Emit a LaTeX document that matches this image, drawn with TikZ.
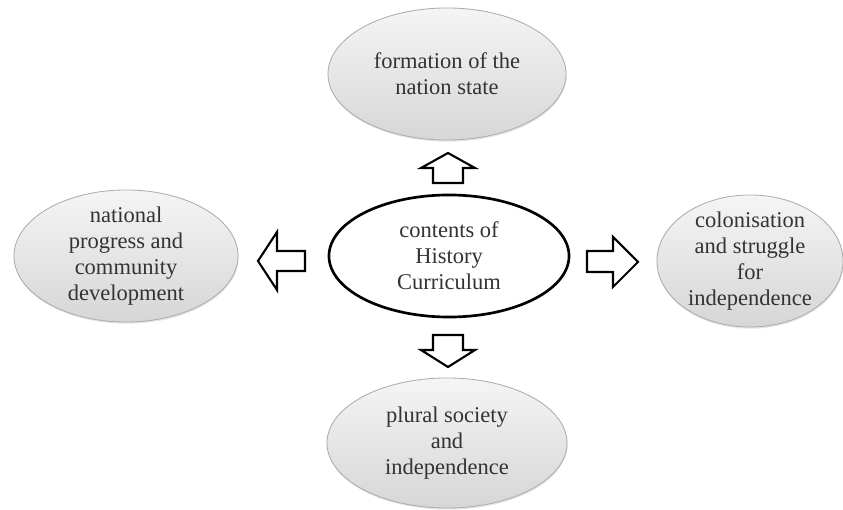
\documentclass[tikz,border=0pt]{standalone}
\usepackage{fontspec}
\setmainfont{Liberation Serif}
\usepackage{tikz}
\usetikzlibrary{shapes.geometric,shadows}

\begin{document}
\begin{tikzpicture}[x=0.025cm,y=-0.025cm,
    topic/.style={ellipse,draw=gray!65,line width=0.6pt,top color=gray!8,bottom color=gray!32,
      drop shadow={opacity=0.2,shadow xshift=0.4pt,shadow yshift=-1.2pt},inner sep=0pt},
    hub/.style={ellipse,draw=black,line width=1.9pt,fill=white,inner sep=0pt,
      minimum width=6cm,minimum height=3.05cm},
    txt/.style={align=center,text=black!80,font=\fontsize{16}{18.5}\selectfont},
    blockarrow/.style={draw=black,line width=1.5pt,fill=white,line join=miter}]

    \useasboundingbox (0,0) rectangle (843,510);
          % Page the same size as the reference

    \node[hub,label={[txt]center:contents of\\History\\Curriculum}] (hub) at (449,256) {};

    \node[topic,minimum width=5.95cm,minimum height=3.3cm,
          label={[txt]center:formation of the\\nation state}] (nation) at (447,74) {};
    \node[topic,minimum width=5.6cm,minimum height=3.3cm,
          label={[txt]center:national\\progress and\\community\\development}] (progress) at (126,256) {};
    \node[topic,minimum width=4.65cm,minimum height=3.3cm,
          label={[txt]center:colonisation\\and struggle\\for\\independence}] (colony) at (750,261) {};
    \node[topic,minimum width=6cm,minimum height=3.25cm,
          label={[txt]center:plural society\\and\\independence}] (plural) at (447,443) {};

    % Hollow block arrows pointing out of the hub
    \draw[blockarrow] (448,153) -- (475,168) -- (463,168) -- (463,183) -- (433,183)
          -- (433,168) -- (421,168) -- cycle;
    \draw[blockarrow] (433,335) -- (463,335) -- (463,350) -- (475,350) -- (448,367)
          -- (421,350) -- (433,350) -- cycle;
    \draw[blockarrow] (258,261) -- (277,232) -- (277,251) -- (305,251) -- (305,271)
          -- (277,271) -- (277,290) -- cycle;
    \draw[blockarrow] (587,251) -- (613,251) -- (613,237) -- (638,262) -- (613,287)
          -- (613,272) -- (587,272) -- cycle;
\end{tikzpicture}
\end{document}
